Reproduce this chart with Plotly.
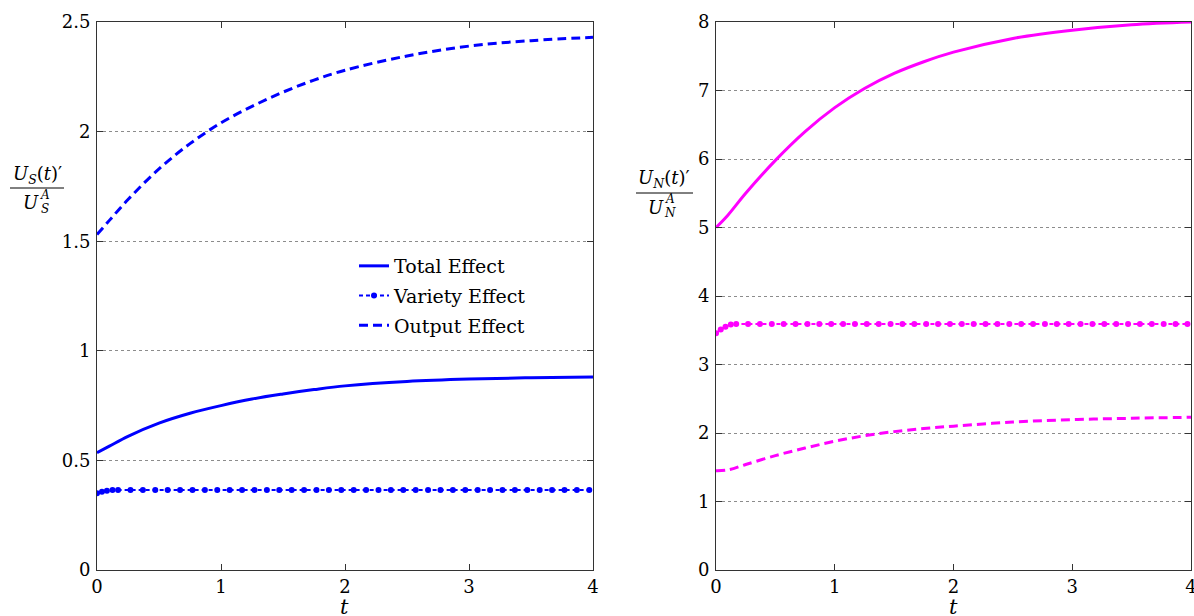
import plotly.graph_objects as go

# ---------------- data ----------------
t_line = [0, 0.1, 0.25, 0.5, 0.75, 1.0, 1.25, 1.5, 1.75, 2.0, 2.5, 3.0, 3.5, 4.0]

s_total = [0.535, 0.565, 0.61, 0.67, 0.715, 0.75, 0.78, 0.803, 0.823, 0.84, 0.86, 0.871, 0.877, 0.88]
s_output = [1.53, 1.595, 1.69, 1.83, 1.945, 2.04, 2.115, 2.18, 2.235, 2.28, 2.345, 2.39, 2.415, 2.43]

n_total = [5.0, 5.18, 5.5, 5.98, 6.4, 6.75, 7.03, 7.25, 7.42, 7.56, 7.76, 7.88, 7.96, 8.0]
n_output = [1.45, 1.46, 1.54, 1.67, 1.78, 1.88, 1.96, 2.02, 2.065, 2.1, 2.16, 2.195, 2.215, 2.23]

t_mark = [0, 0.04, 0.08, 0.125, 0.17, 0.27, 0.37, 0.47, 0.57, 0.67, 0.77, 0.87, 0.97,
          1.07, 1.17, 1.27, 1.37, 1.47, 1.57, 1.67, 1.77, 1.87, 1.97, 2.07, 2.17, 2.27,
          2.37, 2.47, 2.57, 2.67, 2.77, 2.87, 2.97, 3.07, 3.17, 3.27, 3.37, 3.47, 3.57,
          3.67, 3.77, 3.87, 3.97]
s_variety = [0.350, 0.357, 0.362, 0.365, 0.365, 0.365, 0.365, 0.365, 0.365, 0.365, 0.365,
             0.365, 0.365, 0.365, 0.365, 0.365, 0.365, 0.365, 0.365, 0.365, 0.365, 0.365,
             0.365, 0.365, 0.365, 0.365, 0.365, 0.365, 0.365, 0.365, 0.365, 0.365, 0.365,
             0.365, 0.365, 0.365, 0.365, 0.365, 0.365, 0.365, 0.365, 0.365, 0.365]
n_variety = [3.455, 3.51, 3.55, 3.585, 3.59, 3.59, 3.59, 3.59, 3.59, 3.59, 3.59,
             3.59, 3.59, 3.59, 3.59, 3.59, 3.59, 3.59, 3.59, 3.59, 3.59, 3.59,
             3.59, 3.59, 3.59, 3.59, 3.59, 3.59, 3.59, 3.59, 3.59, 3.59, 3.59,
             3.59, 3.59, 3.59, 3.59, 3.59, 3.59, 3.59, 3.59, 3.59, 3.59]

x_ticks = [0, 1, 2, 3, 4]
x_ticktext = ["0", "1", "2", "3", "4"]
s_ticks = [0, 0.5, 1, 1.5, 2, 2.5]
s_ticktext = ["0", "0.5", "1", "1.5", "2", "2.5"]
n_ticks = [0, 1, 2, 3, 4, 5, 6, 7, 8]
n_ticktext = ["0", "1", "2", "3", "4", "5", "6", "7", "8"]

legend_names = ["Total Effect", "Variety Effect", "Output Effect"]

# ---------------- style ----------------
W, H = 1194, 616
MT, MB = 22, 46
BLUE = "#0000FF"
MAG = "#FF00FF"
FONT = "DejaVu Serif, Liberation Serif, Noto Serif, serif"
DASH = "9px,5px"


def px(x):
    return x / W


def py(y):
    return (H - MB - y) / (H - MT - MB)


fig = go.Figure()

# Left panel
fig.add_trace(go.Scatter(x=t_line, y=s_total, mode="lines", name=legend_names[0],
                         line=dict(color=BLUE, width=3, shape="spline"),
                         xaxis="x", yaxis="y", legendgroup="g1"))
fig.add_trace(go.Scatter(x=t_mark, y=s_variety, mode="lines+markers", name=legend_names[1],
                         line=dict(color=BLUE, width=2, dash="4px,3px"),
                         marker=dict(color=BLUE, size=6),
                         xaxis="x", yaxis="y", legendgroup="g2"))
fig.add_trace(go.Scatter(x=t_line, y=s_output, mode="lines", name=legend_names[2],
                         line=dict(color=BLUE, width=3, dash=DASH, shape="spline"),
                         xaxis="x", yaxis="y", legendgroup="g3"))

# Right panel
fig.add_trace(go.Scatter(x=t_line, y=n_total, mode="lines", showlegend=False,
                         line=dict(color=MAG, width=3, shape="spline"),
                         xaxis="x2", yaxis="y2"))
fig.add_trace(go.Scatter(x=t_mark, y=n_variety, mode="lines+markers", showlegend=False,
                         line=dict(color=MAG, width=2, dash="4px,3px"),
                         marker=dict(color=MAG, size=6),
                         xaxis="x2", yaxis="y2"))
fig.add_trace(go.Scatter(x=t_line, y=n_output, mode="lines", showlegend=False,
                         line=dict(color=MAG, width=3, dash=DASH, shape="spline"),
                         xaxis="x2", yaxis="y2"))

axis_common = dict(showline=True, linecolor="#333333", linewidth=1, mirror="allticks",
                   ticks="inside", ticklen=6, tickcolor="#333333", zeroline=False,
                   tickfont=dict(family=FONT, size=18, color="black"), automargin=False,
                   ticklabeloverflow="allow")

xa = dict(axis_common, range=[0, 4], tickvals=x_ticks, ticktext=x_ticktext, showgrid=False,
          ticklabelstandoff=0)
ya_grid = dict(showgrid=True, gridcolor="#8c8c8c", griddash="dot", gridwidth=1)

fig.update_layout(
    width=W, height=H,
    margin=dict(l=0, r=0, t=MT, b=MB),
    paper_bgcolor="white", plot_bgcolor="white",
    font=dict(family=FONT, color="black"),
    xaxis=dict(xa, domain=[px(97), px(593)], anchor="y"),
    yaxis=dict(axis_common, **ya_grid, range=[0, 2.5], tickvals=s_ticks, ticktext=s_ticktext,
               anchor="x", ticklabelstandoff=2),
    xaxis2=dict(xa, domain=[px(716), px(1191)], anchor="y2"),
    yaxis2=dict(axis_common, **ya_grid, range=[0, 8], tickvals=n_ticks, ticktext=n_ticktext,
                anchor="x2", ticklabelstandoff=2),
    legend=dict(x=px(354), y=py(247), xanchor="left", yanchor="top",
                bgcolor="rgba(0,0,0,0)", borderwidth=0, tracegroupgap=2,
                font=dict(family=FONT, size=19, color="black")),
    showlegend=True,
)

ann = []
shapes = []


def txt(x, y, s, size=20, xanchor="center"):
    ann.append(dict(x=px(x), y=py(y), xref="paper", yref="paper", text=s, showarrow=False,
                    xanchor=xanchor, yanchor="middle",
                    font=dict(family=FONT, size=size, color="black")))


# x-axis titles
txt(345, 607, "<i>t</i>", size=21)
txt(953, 607, "<i>t</i>", size=21)

# left y label fraction
txt(37, 175, "<i>U</i><sub><i>S</i></sub>(<i>t</i>)′", size=18)
shapes.append(dict(type="line", xref="paper", yref="paper", x0=px(10), x1=px(64),
                   y0=py(188), y1=py(188), line=dict(color="black", width=1)))
txt(31, 202, "<i>U</i>", size=18)
txt(45, 209, "<i>S</i>", size=12)
txt(45, 195, "<i>A</i>", size=12)

# right y label fraction
txt(664, 179, "<i>U</i><sub><i>N</i></sub>(<i>t</i>)′", size=18)
shapes.append(dict(type="line", xref="paper", yref="paper", x0=px(636), x1=px(693),
                   y0=py(193), y1=py(193), line=dict(color="black", width=1)))
txt(656, 207, "<i>U</i>", size=18)
txt(670, 213, "<i>N</i>", size=12)
txt(670, 199, "<i>A</i>", size=12)

fig.update_layout(annotations=ann, shapes=shapes)

fig.write_html("out.html")
